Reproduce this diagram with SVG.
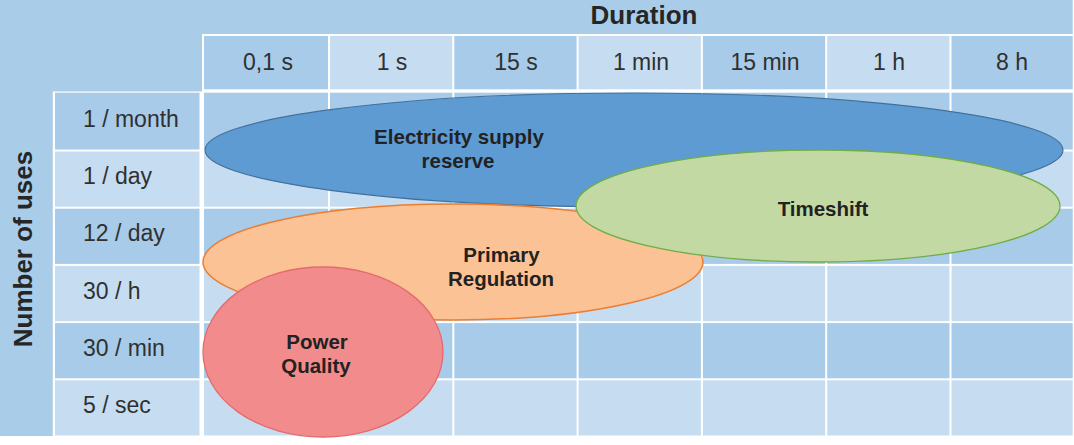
<svg xmlns="http://www.w3.org/2000/svg" width="1074" height="445" viewBox="0 0 1074 445">
<style>
.bg{fill:#a9cde9}
.dk{fill:#a7cbe8}
.lt{fill:#c6ddf1}
.lbl{font-family:"Liberation Sans",Arial,sans-serif;font-size:23px;fill:#303030}
.hc{text-anchor:middle}
.title{font-family:"Liberation Sans",Arial,sans-serif;font-size:26px;font-weight:bold;fill:#262626;text-anchor:middle}
.el{font-family:"Liberation Sans",Arial,sans-serif;font-size:20.5px;font-weight:bold;fill:#222;text-anchor:middle}
</style>
<rect width="1074" height="445" fill="#ffffff"/>
<g id="table">
  <path class="bg" d="M0 0H1072.7V34H202V91.3H52.8V436H0Z"/>
  <rect class="bg" x="0" y="0" width="202" height="91.3"/>
  <text class="title" x="644" y="23.5">Duration</text>
  <text class="title" transform="translate(31.5 249) rotate(-90)">Number of uses</text>
  <!-- header row -->
  <g id="header">
    <rect class="dk" x="204" y="36" width="124" height="53.3"/>
    <rect class="lt" x="330" y="36" width="122.3" height="53.3"/>
    <rect class="dk" x="454.3" y="36" width="122.3" height="53.3"/>
    <rect class="lt" x="578.6" y="36" width="122.3" height="53.3"/>
    <rect class="dk" x="702.9" y="36" width="122.3" height="53.3"/>
    <rect class="lt" x="827.2" y="36" width="122.3" height="53.3"/>
    <rect class="dk" x="951.5" y="36" width="121.2" height="53.3"/>
    <text class="lbl hc" x="268" y="70">0,1 s</text>
    <text class="lbl hc" x="392" y="70">1 s</text>
    <text class="lbl hc" x="516" y="70">15 s</text>
    <text class="lbl hc" x="641" y="70">1 min</text>
    <text class="lbl hc" x="765" y="70">15 min</text>
    <text class="lbl hc" x="889" y="70">1 h</text>
    <text class="lbl hc" x="1012" y="70">8 h</text>
  </g>
  <g id="rows">
    <rect class="dk" x="55" y="92.7" width="144.5" height="56.8"/>
    <rect class="lt" x="55" y="151.5" width="144.5" height="55.2"/>
    <rect class="dk" x="55" y="208.7" width="144.5" height="55.2"/>
    <rect class="lt" x="55" y="265.9" width="144.5" height="55.2"/>
    <rect class="dk" x="55" y="323.1" width="144.5" height="55.2"/>
    <rect class="lt" x="55" y="380.3" width="144.5" height="55.2"/>
    <text class="lbl" x="83" y="126.5">1 / month</text>
    <text class="lbl" x="83" y="184">1 / day</text>
    <text class="lbl" x="83" y="241">12 / day</text>
    <text class="lbl" x="83" y="298.5">30 / h</text>
    <text class="lbl" x="83" y="355.5">30 / min</text>
    <text class="lbl" x="83" y="412.5">5 / sec</text>
  </g>
  <g id="cells">
    <g class="dk">
      <rect x="204" y="92.7" width="124" height="56.8"/><rect x="330" y="92.7" width="122.3" height="56.8"/><rect x="454.3" y="92.7" width="122.3" height="56.8"/><rect x="578.6" y="92.7" width="122.3" height="56.8"/><rect x="702.9" y="92.7" width="122.3" height="56.8"/><rect x="827.2" y="92.7" width="122.3" height="56.8"/><rect x="951.5" y="92.7" width="121.2" height="56.8"/>
      <rect x="204" y="208.7" width="124" height="55.2"/><rect x="330" y="208.7" width="122.3" height="55.2"/><rect x="454.3" y="208.7" width="122.3" height="55.2"/><rect x="578.6" y="208.7" width="122.3" height="55.2"/><rect x="702.9" y="208.7" width="122.3" height="55.2"/><rect x="827.2" y="208.7" width="122.3" height="55.2"/><rect x="951.5" y="208.7" width="121.2" height="55.2"/>
      <rect x="204" y="323.1" width="124" height="55.2"/><rect x="330" y="323.1" width="122.3" height="55.2"/><rect x="454.3" y="323.1" width="122.3" height="55.2"/><rect x="578.6" y="323.1" width="122.3" height="55.2"/><rect x="702.9" y="323.1" width="122.3" height="55.2"/><rect x="827.2" y="323.1" width="122.3" height="55.2"/><rect x="951.5" y="323.1" width="121.2" height="55.2"/>
    </g>
    <g class="lt">
      <rect x="204" y="151.5" width="124" height="55.2"/><rect x="330" y="151.5" width="122.3" height="55.2"/><rect x="454.3" y="151.5" width="122.3" height="55.2"/><rect x="578.6" y="151.5" width="122.3" height="55.2"/><rect x="702.9" y="151.5" width="122.3" height="55.2"/><rect x="827.2" y="151.5" width="122.3" height="55.2"/><rect x="951.5" y="151.5" width="121.2" height="55.2"/>
      <rect x="204" y="265.9" width="124" height="55.2"/><rect x="330" y="265.9" width="122.3" height="55.2"/><rect x="454.3" y="265.9" width="122.3" height="55.2"/><rect x="578.6" y="265.9" width="122.3" height="55.2"/><rect x="702.9" y="265.9" width="122.3" height="55.2"/><rect x="827.2" y="265.9" width="122.3" height="55.2"/><rect x="951.5" y="265.9" width="121.2" height="55.2"/>
      <rect x="204" y="380.3" width="124" height="55.2"/><rect x="330" y="380.3" width="122.3" height="55.2"/><rect x="454.3" y="380.3" width="122.3" height="55.2"/><rect x="578.6" y="380.3" width="122.3" height="55.2"/><rect x="702.9" y="380.3" width="122.3" height="55.2"/><rect x="827.2" y="380.3" width="122.3" height="55.2"/><rect x="951.5" y="380.3" width="121.2" height="55.2"/>
    </g>
  </g>
</g>
<g id="connectors"/>
<g id="electricity-supply-reserve">
  <ellipse cx="634" cy="150" rx="429" ry="57" fill="#5e9bd2" stroke="#41719c" stroke-width="1.2"/>
  <text class="el" x="459" y="143.5">Electricity supply</text>
  <text class="el" x="458" y="167.5">reserve</text>
</g>
<g id="primary-regulation">
  <ellipse cx="453" cy="262" rx="250" ry="58" fill="#fac295" stroke="#ed7d31" stroke-width="1.5"/>
  <text class="el" x="501.5" y="261.5">Primary</text>
  <text class="el" x="501" y="286">Regulation</text>
</g>
<g id="timeshift">
  <ellipse cx="818" cy="206" rx="242" ry="56" fill="#c3d9a4" stroke="#70ad47" stroke-width="1.3"/>
  <text class="el" x="823" y="216">Timeshift</text>
</g>
<g id="power-quality">
  <ellipse cx="323" cy="352" rx="120" ry="85" fill="#f28b8c" stroke="#e46a6c" stroke-width="1.3"/>
  <text class="el" x="317" y="349">Power</text>
  <text class="el" x="316" y="372.5">Quality</text>
</g>
</svg>
